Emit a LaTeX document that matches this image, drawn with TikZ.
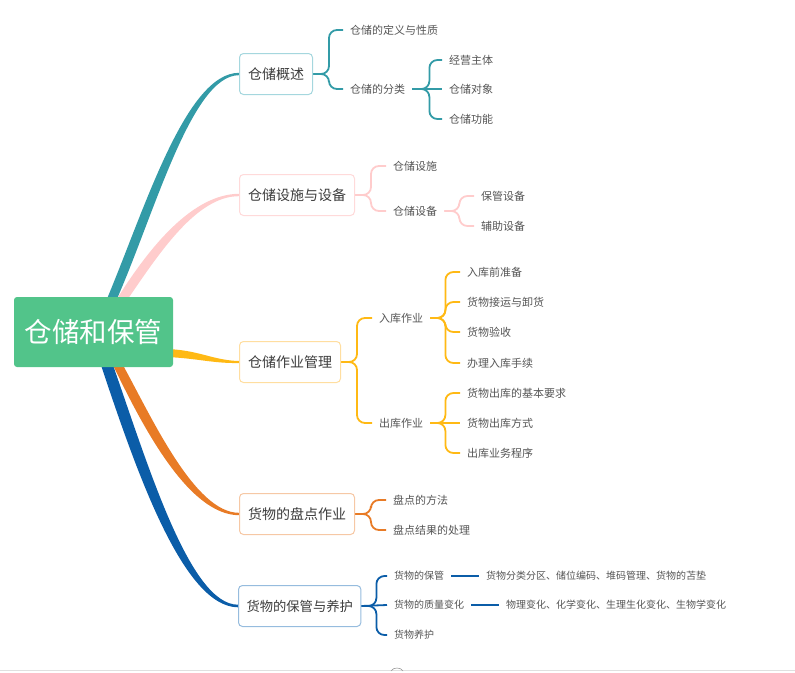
\documentclass[tikz,border=0pt]{standalone}
\usepackage{fontspec}
\setmainfont{Noto Sans CJK SC}
\usetikzlibrary{calc}
\pgfdeclarelayer{bg}
\pgfsetlayers{bg,main}
\definecolor{cgreen}{RGB}{82,196,138}
\definecolor{cteal}{RGB}{51,155,167}
\definecolor{cpink}{RGB}{255,204,204}
\definecolor{cyell}{RGB}{255,185,20}
\definecolor{corng}{RGB}{232,123,38}
\definecolor{cblue}{RGB}{11,93,168}
\definecolor{bteal}{RGB}{165,215,222}
\definecolor{bpink}{RGB}{255,218,218}
\definecolor{byell}{RGB}{255,222,160}
\definecolor{borng}{RGB}{246,200,165}
\definecolor{bblue}{RGB}{150,188,222}
\definecolor{txtA}{RGB}{60,60,60}
\definecolor{txtB}{RGB}{85,85,85}
\begin{document}
\begin{tikzpicture}[x=1pt,y=-1pt,
  lone/.style={draw=#1, line width=1pt, rounded corners=4pt, fill=white, anchor=west,
    inner xsep=8.5pt, minimum height=41pt, text=txtA, font=\fontsize{14}{16}\selectfont},
  ltwo/.style={anchor=west, inner xsep=7pt, inner ysep=2pt, text=txtB, font=\fontsize{11}{13}\selectfont},
  lsmall/.style={ltwo, font=\fontsize{10}{12}\selectfont},
  brace/.style={draw=#1, line width=1.8pt, rounded corners=8pt},
  straight/.style={draw=#1, line width=1.8pt},
]
\useasboundingbox (0,0) rectangle (795,672);

% root
\node[fill=cgreen, text=white, rounded corners=3pt, minimum width=159pt, minimum height=70pt,
  inner sep=0pt, font=\fontsize{27.5}{30}\selectfont] (root) at (93.5,332) {仓储和保管};

% level 1
\node[lone=bteal] (a) at (239,74) {仓储概述};
\node[lone=bpink] (b) at (239,195) {仓储设施与设备};
\node[lone=byell] (c) at (239,362) {仓储作业管理};
\node[lone=borng] (d) at (239,514) {货物的盘点作业};
\node[lone=bblue, font=\fontsize{13.3}{15}\selectfont, inner xsep=8pt] (e) at (238,606) {货物的保管与养护};

% level 2 - branch a
\node[ltwo] (a1) at (343,30) {仓储的定义与性质};
\node[ltwo] (a2) at (343,89) {仓储的分类};
\node[ltwo] (a21) at (442,60) {经营主体};
\node[ltwo] (a22) at (442,89) {仓储对象};
\node[ltwo] (a23) at (442,119) {仓储功能};
% branch b
\node[ltwo] (b1) at (386,166) {仓储设施};
\node[ltwo] (b2) at (386,211) {仓储设备};
\node[ltwo] (b21) at (474,196) {保管设备};
\node[ltwo] (b22) at (474,226) {辅助设备};
% branch c
\node[ltwo] (c1) at (372,318) {入库作业};
\node[ltwo] (c2) at (372,423) {出库作业};
\node[ltwo] (c11) at (460,272) {入库前准备};
\node[ltwo] (c12) at (460,302) {货物接运与卸货};
\node[ltwo] (c13) at (460,332) {货物验收};
\node[ltwo] (c14) at (460,363) {办理入库手续};
\node[ltwo] (c21) at (460,393) {货物出库的基本要求};
\node[ltwo] (c22) at (460,423) {货物出库方式};
\node[ltwo] (c23) at (460,453) {出库业务程序};
% branch d
\node[ltwo] (d1) at (386,500) {盘点的方法};
\node[ltwo] (d2) at (386,530) {盘点结果的处理};
% branch e
\node[lsmall] (e1) at (387,576) {货物的保管};
\node[lsmall] (e2) at (387,605) {货物的质量变化};
\node[lsmall] (e3) at (387,635) {货物养护};
\node[lsmall] (e11) at (479,576) {货物分类分区、储位编码、堆码管理、货物的苫垫};
\node[lsmall] (e21) at (499,605) {物理变化、化学变化、生理生化变化、生物学变化};

\begin{pgfonlayer}{bg}
% main tapered branches
\fill[cteal] ($(root.north)+(13.5,2)$) .. controls (145,208) and (186,73) .. ($(a.west)+(0,-1.2)$)
  -- ($(a.west)+(0,1.2)$) .. controls (192,75) and (155,212) .. ($(root.north)+(23.5,2)$) -- cycle;
\fill[cpink] ($(root.north)+(23.5,2)$) .. controls (150,246) and (193,194) .. ($(b.west)+(0,-1.2)$)
  -- ($(b.west)+(0,1.2)$) .. controls (197,196) and (160,252) .. ($(root.north)+(34.5,2)$) -- cycle;
\fill[cyell] ($(root.south east)+(-2,-18)$) .. controls (200,351) and (215,360.5) .. ($(c.west)+(0,-1)$)
  -- ($(c.west)+(0,1)$) .. controls (215,363.5) and (200,359) .. ($(root.south east)+(-2,-10)$) -- cycle;
\fill[corng] ($(root.south)+(29.5,-2)$) .. controls (152,418) and (195,513) .. ($(d.west)+(0,-1.2)$)
  -- ($(d.west)+(0,1.2)$) .. controls (188,515) and (142,425) .. ($(root.south)+(19.5,-2)$) -- cycle;
\fill[cblue] ($(root.south)+(19.5,-2)$) .. controls (148,465) and (190,605) .. ($(e.west)+(0,-1.3)$)
  -- ($(e.west)+(0,1.3)$) .. controls (183,607) and (136,470) .. ($(root.south)+(7.5,-2)$) -- cycle;

% braces branch a
\draw[brace=cteal] (a.east) -- ++(16,0) |- (a1.west);
\draw[brace=cteal] (a.east) -- ++(16,0) |- (a2.west);
\draw[brace=cteal] (a2.east) -- ++(17,0) |- (a21.west);
\draw[straight=cteal] (a2.east) -- (a22.west);
\draw[brace=cteal] (a2.east) -- ++(17,0) |- (a23.west);
% branch b
\draw[brace=cpink] (b.east) -- ++(16,0) |- (b1.west);
\draw[brace=cpink] (b.east) -- ++(16,0) |- (b2.west);
\draw[brace=cpink] (b2.east) -- ++(15,0) |- (b21.west);
\draw[brace=cpink] (b2.east) -- ++(15,0) |- (b22.west);
% branch c
\draw[brace=cyell] (c.east) -- ++(16,0) |- (c1.west);
\draw[brace=cyell] (c.east) -- ++(16,0) |- (c2.west);
\draw[brace=cyell] (c1.east) -- ++(15,0) |- (c11.west);
\draw[brace=cyell] (c1.east) -- ++(15,0) |- (c12.west);
\draw[brace=cyell] (c1.east) -- ++(15,0) |- (c13.west);
\draw[brace=cyell] (c1.east) -- ++(15,0) |- (c14.west);
\draw[brace=cyell] (c2.east) -- ++(15,0) |- (c21.west);
\draw[straight=cyell] (c2.east) -- (c22.west);
\draw[brace=cyell] (c2.east) -- ++(15,0) |- (c23.west);
% branch d
\draw[brace=corng] (d.east) -- ++(16,0) |- (d1.west);
\draw[brace=corng] (d.east) -- ++(16,0) |- (d2.west);
% branch e
\draw[brace=cblue] (e.east) -- ++(15,0) |- (e1.west);
\draw[straight=cblue] (e.east) -- (e2.west);
\draw[brace=cblue] (e.east) -- ++(15,0) |- (e3.west);
\draw[straight=cblue] (e1.east) -- (e11.west);
\draw[straight=cblue] (e2.east) -- (e21.west);
\end{pgfonlayer}

% bottom edge of the screen
\draw[black!12, line width=0.8pt] (0,670.5) -- (795,670.5);
\draw[black!40, line width=0.6pt] (391,671) .. controls (393,667) and (401,667) .. (403,671);
\end{tikzpicture}
\end{document}
